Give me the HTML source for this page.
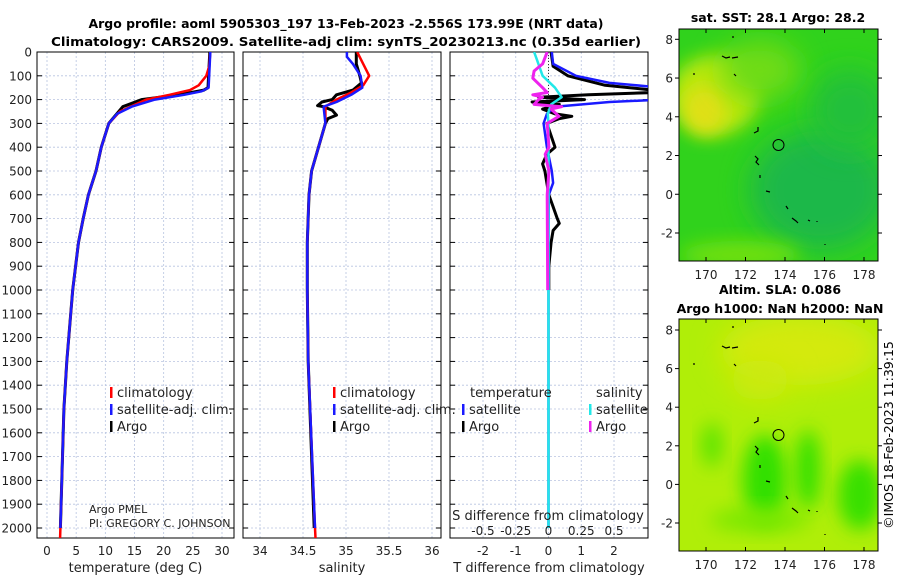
<!DOCTYPE html>
<html><head><meta charset="utf-8"><style>
body{margin:0;background:#fff;}
svg{display:block;font-family:"DejaVu Sans","Liberation Sans",sans-serif;}
</style></head><body>
<svg id="c" width="900" height="580" viewBox="0 0 900 580">
<defs>
<filter id="bl" x="-50%" y="-50%" width="200%" height="200%"><feGaussianBlur stdDeviation="14"/></filter>
<filter id="bl2" x="-50%" y="-50%" width="200%" height="200%"><feGaussianBlur stdDeviation="9"/></filter>
<clipPath id="m1"><rect x="679" y="29" width="199" height="232"/></clipPath>
<clipPath id="m2"><rect x="679" y="319" width="199" height="232"/></clipPath>
<clipPath id="p1"><rect x="37" y="52" width="197" height="486"/></clipPath>
<clipPath id="p2"><rect x="243" y="52" width="198" height="486"/></clipPath>
<clipPath id="p3"><rect x="450" y="52" width="198" height="486"/></clipPath>
</defs>
<text x="346" y="28" text-anchor="middle" font-size="12.5" font-weight="bold" textLength="515" lengthAdjust="spacingAndGlyphs">Argo profile: aoml 5905303_197 13-Feb-2023 -2.556S 173.99E (NRT data)</text>
<text x="346" y="46" text-anchor="middle" font-size="12.5" font-weight="bold" textLength="590" lengthAdjust="spacingAndGlyphs">Climatology: CARS2009. Satellite-adj clim: synTS_20230213.nc (0.35d earlier)</text>
<g id="plots"></g>
<g>
<text x="778" y="22" text-anchor="middle" font-size="12.5" font-weight="bold">sat. SST: 28.1 Argo: 28.2</text>
<g clip-path="url(#m1)">
<rect x="679" y="29" width="199" height="232" fill="#30d21c"/>
<ellipse cx="820" cy="190" rx="70" ry="60" fill="#1ab848" filter="url(#bl)"/>
<ellipse cx="850" cy="110" rx="40" ry="40" fill="#22c03a" filter="url(#bl)"/>
<ellipse cx="715" cy="95" rx="45" ry="40" fill="#b8e810" filter="url(#bl2)"/>
<ellipse cx="705" cy="110" rx="22" ry="25" fill="#e0e018" filter="url(#bl2)"/>
<ellipse cx="760" cy="70" rx="40" ry="30" fill="#70dc14" filter="url(#bl)"/>
<ellipse cx="740" cy="255" rx="60" ry="14" fill="#70e010" filter="url(#bl2)"/>
</g>
<rect x="679" y="29" width="199" height="232" fill="none" stroke="#000" stroke-width="1"/>
<circle cx="778.5" cy="145" r="5.5" fill="none" stroke="#000"/>
<g stroke="#000" fill="none" stroke-width="1.2">
<path d="M722 56l4 2 4-1 M732 58l6-1 M734 74l2 2 M754 133l4-2 0-4 M755 156l3 3-2 3 3 3 M760 175v3 M766 191l4 1 M786 206l2 3 M792 218l4 3 2 2 M808 220l2 1 M817 221v1 M825 244v1 M694 73v2 M733 36v2"/>
</g>
</g>
<g>
<text x="780" y="294" text-anchor="middle" font-size="12.5" font-weight="bold">Altim. SLA: 0.086</text>
<text x="780" y="313" text-anchor="middle" font-size="12.5" font-weight="bold">Argo h1000: NaN h2000: NaN</text>
<g clip-path="url(#m2)">
<rect x="679" y="319" width="199" height="232" fill="#b0ee08"/>
<ellipse cx="800" cy="350" rx="80" ry="35" fill="#d4ea10" filter="url(#bl)"/>
<ellipse cx="760" cy="380" rx="30" ry="20" fill="#ccea10" filter="url(#bl)"/>
<ellipse cx="765" cy="480" rx="22" ry="45" fill="#30e000" filter="url(#bl2)"/>
<ellipse cx="808" cy="470" rx="12" ry="40" fill="#30e000" filter="url(#bl2)"/>
<ellipse cx="860" cy="495" rx="22" ry="35" fill="#38e000" filter="url(#bl2)"/>
<ellipse cx="712" cy="445" rx="10" ry="22" fill="#58e400" filter="url(#bl2)"/>
<ellipse cx="760" cy="520" rx="50" ry="12" fill="#7ce800" filter="url(#bl2)"/>
</g>
<rect x="679" y="319" width="199" height="232" fill="none" stroke="#000" stroke-width="1"/>
<circle cx="778.5" cy="435" r="5.5" fill="none" stroke="#000"/>
<g stroke="#000" fill="none" stroke-width="1.2">
<path d="M722 346l4 2 4-1 M732 348l6-1 M734 364l2 2 M754 423l4-2 0-4 M755 446l3 3-2 3 3 3 M760 465v3 M766 481l4 1 M786 496l2 3 M792 508l4 3 2 2 M808 510l2 1 M817 511v1 M825 534v1 M694 363v2 M733 326v2"/>
</g>
</g>
<text transform="translate(893,435) rotate(-90)" text-anchor="middle" font-size="12.5">©IMOS 18-Feb-2023 11:39:15</text>
</svg>
<script>
// ---- data ----
const depthTicks=[0,100,200,300,400,500,600,700,800,900,1000,1100,1200,1300,1400,1500,1600,1700,1800,1900,2000];
const tempTicks=[0,5,10,15,20,25,30];
const salTicks=[34,34.5,35,35.5,36];
const salTickLabels=["34","34.5","35","35.5","36"];
const tdiffTicks=[-2,-1,0,1,2];
const sdiffTicks=[-0.5,-0.25,0,0.25,0.5];
const sdiffTickLabels=["-0.5","-0.25","0","0.25","0.5"];

const tempClimDepth=[0,60,100,140,160,180,200,250,300,400,500,600,700,800,900,1000,1300,1500,2000,2042];
const tempClim=[28,27.8,27.3,26,24.5,21,17,12.5,10.6,9.3,8.4,7.1,6.2,5.4,4.9,4.4,3.4,2.9,2.3,2.25];
const tempSatDepth=[0,150,165,180,200,230,260,300,400,500,600,700,800,900,1000,1300,1500,2000];
const tempSat=[28,27.7,26.5,23.5,18.5,14.5,12,10.6,9.3,8.4,7.1,6.2,5.4,4.9,4.4,3.4,2.9,2.3];
const tempArgoDepth=[0,150,160,180,200,230,250,300,400,500,600,700,800,900,1000,1300,1500,2000];
const tempArgo=[27.9,27.6,26.9,22.6,16.2,13,12.3,10.6,9.3,8.4,7.1,6.2,5.4,4.9,4.4,3.4,2.9,2.3];

const salClimDepth=[0,50,100,140,170,200,230,300,400,500,600,800,1000,1300,2000,2042];
const salClim=[35.13,35.2,35.27,35.2,35.06,34.89,34.76,34.76,34.68,34.6,34.57,34.55,34.55,34.56,34.64,34.645];
const salSatDepth=[0,20,50,100,150,180,210,230,300,400,500,600,800,1000,1300,2000];
const salSat=[35.01,35.01,35.08,35.17,35.19,35.06,34.89,34.74,34.76,34.68,34.6,34.57,34.55,34.55,34.56,34.64];
const salArgoDepth=[0,50,100,130,160,180,200,210,225,230,245,265,280,300,400,500,600,800,1000,1300,2000];
const salArgo=[35.12,35.12,35.16,35.18,35.08,34.89,34.84,34.72,34.67,34.74,34.84,34.89,34.79,34.76,34.68,34.6,34.57,34.55,34.55,34.56,34.63];

const tdSatDepth=[0,50,100,130,150,200,210,230,260,300,400,500,550,600,800,1000,1500,2000];
const tdSat=[0.1,0.14,0.84,1.86,3.5,3.5,1.86,0.2,-0.05,-0.15,-0.05,0.1,0.14,0.01,0,0,0,0];
const tdArgoDepth=[0,60,100,140,160,170,180,190,200,210,220,240,260,270,280,300,400,430,470,500,600,650,700,720,750,800,900,1000];
const tdArgo=[0.08,0.14,0.59,1.73,3.2,3.2,1.22,-0.3,1.1,-0.5,0.33,-0.18,0.2,0.71,0.33,-0.05,0.2,-0.05,-0.18,-0.11,0.01,0.14,0.27,0.33,0.14,0.08,0.01,0.01];
const sdSatDepth=[0,30,100,150,190,220,260,300,2000];
const sdSat=[-0.11,-0.09,-0.045,0.05,0.1,0.02,-0.005,0,0];
const sdArgoDepth=[0,50,80,110,150,170,180,190,200,220,230,240,270,300,400,430,500,600,1000];
const sdArgo=[-0.01,-0.045,-0.11,-0.12,-0.045,-0.01,-0.12,-0.045,-0.076,-0.11,0.1,0.02,0.08,-0.01,0.003,-0.025,0.003,-0.01,-0.006];

const mapLon=[170,172,174,176,178];
const mapLat=[-2,0,2,4,6,8];

// ---- scales ----
const NS="http://www.w3.org/2000/svg";
const root=document.getElementById('plots');
const Y0=52,Y1=538,DMAX=2042;
const yD=d=>Y0+d*(Y1-Y0)/DMAX;
function lin(d0,d1,r0,r1){return v=>r0+(v-d0)*(r1-r0)/(d1-d0);}
const xT=lin(0,30,47,222);
const xS=lin(34,36,260,432);
const xTD=lin(-2,2,483,614);
const xSD=v=>xTD(v*4);
function el(tag,attrs,parent){const e=document.createElementNS(NS,tag);for(const k in attrs)e.setAttribute(k,attrs[k]);(parent||root).appendChild(e);return e;}
function txt(x,y,s,size,anchor,parent){const t=el('text',{x:x,y:y,'font-size':size,'text-anchor':anchor||'middle',fill:'#222'},parent);t.textContent=s;return t;}

function panel(name,x0,x1,xs,ticks,labels,title,clip){
  const g=el('g',{});
  
  
  depthTicks.forEach(d=>{el('line',{x1:x0,x2:x1,y1:yD(d),y2:yD(d),stroke:'#b8c4e0','stroke-width':0.8,'stroke-dasharray':'2,2'},g);
    el('line',{x1:x0,x2:x0+5,y1:yD(d),y2:yD(d),stroke:'#000'},g);el('line',{x1:x1-5,x2:x1,y1:yD(d),y2:yD(d),stroke:'#000'},g);});
  ticks.forEach((v,i)=>{const x=xs(v);el('line',{x1:x,x2:x,y1:Y0,y2:Y1,stroke:'#b8c4e0','stroke-width':0.8,'stroke-dasharray':'2,2'},g);
    if(labels){const t=txt(x,555,labels[i],12,'middle',g);}});
  el('rect',{x:x0,y:Y0,width:x1-x0,height:Y1-Y0,fill:'none',stroke:'#000','stroke-width':1},g);
  if(title){const t=txt((x0+x1)/2,572,title,13,'middle',g);}
  const lines=el('g',{'clip-path':'url(#'+clip+')'},g);
  return lines;
}
function series(parent,name,depths,vals,xs,color,w){
  const pts=depths.map((d,i)=>xs(vals[i]).toFixed(1)+','+yD(d).toFixed(1)).join(' ');
  const p=el('polyline',{points:pts,fill:'none',stroke:color,'stroke-width':w||2.5,'stroke-linejoin':'round'},parent);
  
  
}
depthTicks.forEach(d=>{const t=txt(32,yD(d)+4.5,String(d),12,'end');
  
  });

const l1=panel('temperature-panel',37,234,xT,tempTicks,tempTicks.map(String),'temperature (deg C)','p1');
series(l1,'temp-argo-line',tempArgoDepth,tempArgo,xT,'#000',3);
series(l1,'temp-climatology-line',tempClimDepth,tempClim,xT,'#f00',2.5);
series(l1,'temp-satellite-line',tempSatDepth,tempSat,xT,'#1a1aff',2.5);
const l2=panel('salinity-panel',243,441,xS,salTicks,salTickLabels,'salinity','p2');
series(l2,'sal-argo-line',salArgoDepth,salArgo,xS,'#000',3);
series(l2,'sal-climatology-line',salClimDepth,salClim,xS,'#f00',2.5);
series(l2,'sal-satellite-line',salSatDepth,salSat,xS,'#1a1aff',2.5);
const l3=panel('difference-panel',450,648,xTD,tdiffTicks,tdiffTicks.map(String),'T difference from climatology','p3');
el('line',{x1:xTD(0),x2:xTD(0),y1:Y0,y2:yD(300),stroke:'#333','stroke-dasharray':'1,2'},l3);
series(l3,'tdiff-argo-line',tdArgoDepth,tdArgo,xTD,'#000',3);
series(l3,'tdiff-satellite-line',tdSatDepth,tdSat,xTD,'#1a1aff',2.5);
series(l3,'sdiff-satellite-line',sdSatDepth,sdSat,xSD,'#22e8e8',2.5);
series(l3,'sdiff-argo-line',sdArgoDepth,sdArgo,xSD,'#ee22ee',3);
{const t=txt(548,520,'S difference from climatology',13,'middle');}
sdiffTicks.forEach((v,i)=>{const t=txt(xSD(v),535,sdiffTickLabels[i],12,'middle');
  
  });

function legendEntry(x,y,color,label){
  const g=el('g',{});
  
  
  el('rect',{x:x,y:y-10,width:2.5,height:11,fill:color},g);
  txt(x+7,y,label,13,'start',g);
}
legendEntry(110,397,'#f00','climatology');
legendEntry(110,414,'#1a1aff','satellite-adj. clim.');
legendEntry(110,431,'#000','Argo');
legendEntry(333,397,'#f00','climatology');
legendEntry(333,414,'#1a1aff','satellite-adj. clim.');
legendEntry(333,431,'#000','Argo');
{const t=txt(470,397,'temperature',13,'start');}
{const t=txt(596,397,'salinity',13,'start');}
legendEntry(462,414,'#1a1aff','satellite');
legendEntry(462,431,'#000','Argo');
legendEntry(589,414,'#22e8e8','satellite');
legendEntry(589,431,'#ee22ee','Argo');
{const t=txt(89,513,'Argo PMEL',11,'start');}
{const t=txt(89,527,'PI: GREGORY C. JOHNSON',11,'start');}

const svg=document.getElementById('c');
function mapAxes(top,lat8y,latm2y){
  const xL=lin(170,178,706,864);
  const yL=lin(8,-2,lat8y,latm2y);
  mapLon.forEach(v=>{const x=xL(v);
    el('line',{x1:x,x2:x,y1:top+232,y2:top+228,stroke:'#000'},svg);
    el('line',{x1:x,x2:x,y1:top,y2:top+4,stroke:'#000'},svg);
    const t=txt(x,top+250,String(v),12,'middle',svg);
    
    });
  mapLat.forEach(v=>{const y=yL(v);
    el('line',{x1:679,x2:675,y1:y,y2:y,stroke:'#000'},svg);
    el('line',{x1:878,x2:882,y1:y,y2:y,stroke:'#000'},svg);
    const t=txt(673,y+4.5,String(v),12,'end',svg);
    
    });
}
mapAxes(29,39.3,233);
mapAxes(319,330,523);
</script>
</body></html>
